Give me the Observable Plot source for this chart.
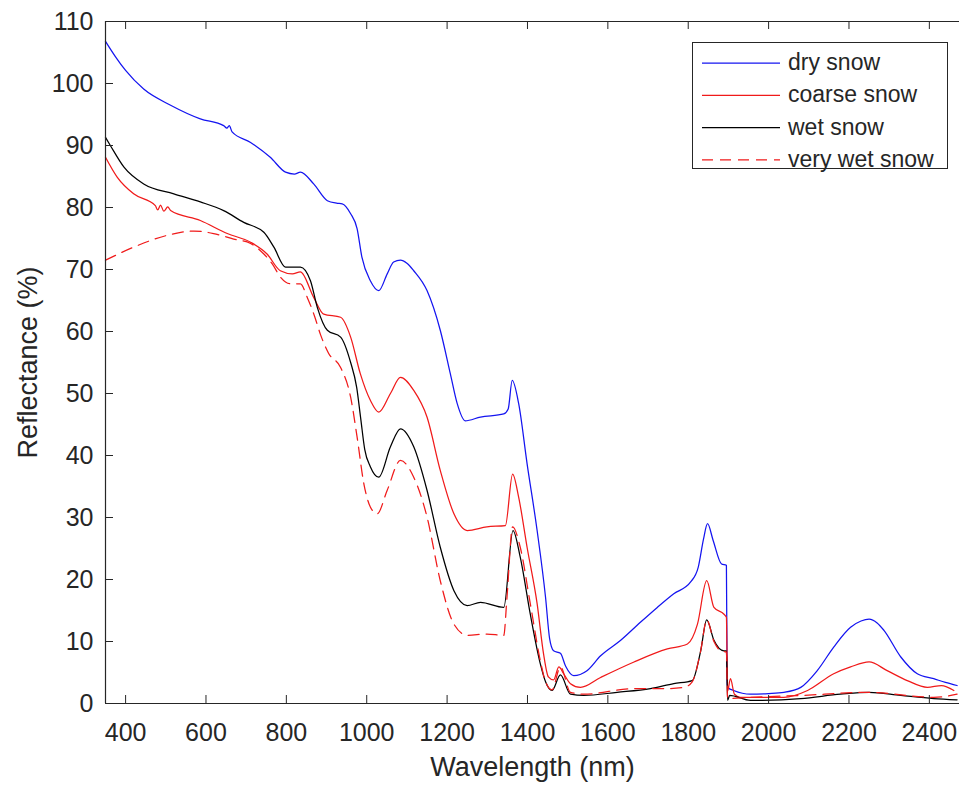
<!DOCTYPE html>
<html>
<head>
<meta charset="utf-8">
<script src="https://cdn.jsdelivr.net/npm/d3@7"></script>
<script src="https://cdn.jsdelivr.net/npm/@observablehq/plot@0.6"></script>
<style>
  body { margin: 0; background: #fff; }
  #wrap { position: relative; width: 959px; height: 786px; overflow: hidden; background: #fff; }
  #legend { position: absolute; left: 692px; top: 42px; overflow: visible; }
</style>
</head>
<body>
<div id="wrap"></div>
<script>
// ---------- data ----------
const drySnowNm = [350,375,400,445,512,586,644,652,658,665,711,760,798,820,835,868,902,925,939,960,976,988,1009,1030,1051,1067,1084,1100,1117,1150,1183,1208,1225,1245,1283,1341,1352,1362,1378,1399,1424,1445,1455,1465,1482,1495,1515,1548,1582,1632,1681,1723,1764,1806,1825,1838,1848,1862,1883,1895,1897,1900,1913,1955,2000,2038,2080,2121,2162,2204,2230,2250,2270,2287,2329,2370,2411,2440,2469];
const drySnowR  = [106.8,104.3,102.1,99.1,96.5,94.3,93.2,92.8,93.2,92.2,90.5,88.1,85.7,85.4,85.7,83.8,81.1,80.7,80.6,79.0,76.6,72.0,68.2,66.6,69.3,71.2,71.5,71.0,69.8,66.6,60.2,53.2,48.4,45.6,46.2,46.7,47.5,52.1,48.4,38.7,27.9,17.1,10.5,8.5,8.1,6.0,4.5,5.3,7.7,10.2,13.1,15.5,17.7,19.6,22.0,26.5,29.0,26.3,22.5,22.3,3.0,2.5,2.1,1.5,1.6,1.8,2.6,5.3,9.1,12.3,13.3,13.6,13.0,11.8,7.5,4.8,4.0,3.4,2.9];

const coarseSnowNm = [350,379,420,474,480,487,495,505,512,586,653,711,752,785,815,835,868,893,935,960,984,1009,1030,1059,1084,1117,1150,1183,1217,1250,1299,1345,1363,1378,1399,1424,1440,1452,1465,1478,1490,1507,1532,1582,1665,1748,1798,1823,1846,1864,1889,1895,1898,1905,1915,1930,2038,2097,2162,2204,2250,2295,2345,2395,2430,2461];
const coarseSnowR  = [88.1,84.9,82.2,80.3,79.6,80.4,79.4,80.1,79.5,77.9,75.8,74.4,72.5,69.8,69.3,69.6,65.5,62.8,62.3,59.1,53.2,48.9,47.0,50.0,52.6,50.5,46.2,37.6,30.6,27.9,28.5,28.7,37.0,33.3,25.2,16.1,8.0,4.3,3.8,5.9,4.8,3.2,2.6,4.2,6.7,8.8,9.6,12.8,19.8,15.5,14.4,13.9,2.0,4.0,1.5,1.0,1.0,2.1,4.8,5.9,6.7,5.3,3.7,2.6,2.9,2.1];

const wetSnowNm = [350,362,396,445,520,586,644,694,744,769,798,835,860,877,902,935,960,975,985,995,1009,1030,1059,1084,1117,1150,1183,1217,1250,1283,1341,1364,1382,1407,1432,1445,1461,1482,1507,1540,1623,1706,1764,1810,1831,1846,1864,1889,1895,1898,1903,1955,2080,2179,2250,2329,2411,2469];
const wetSnowR  = [91.3,90.0,86.5,83.8,82.2,80.9,79.5,77.6,76.0,73.6,70.4,70.4,68.2,63.9,60.2,59.1,55.0,51.0,46.0,41.0,38.2,36.5,41.4,44.3,41.4,34.4,25.2,18.2,15.8,16.3,15.5,27.9,23.6,14.4,6.4,3.5,2.1,4.6,1.5,1.3,1.8,2.4,3.2,3.7,8.5,13.5,10.2,8.5,8.5,0.5,1.3,0.5,0.8,1.5,1.8,1.3,0.8,0.6];

const veryWetSnowNm = [350,420,503,570,619,669,711,744,765,785,810,835,852,870,885,905,935,960,976,993,1009,1026,1051,1084,1117,1150,1183,1217,1250,1299,1341,1349,1363,1382,1407,1432,1445,1461,1482,1507,1540,1665,1748,1789,1810,1831,1846,1864,1881,1895,1898,1955,2080,2250,2411,2469];
const veryWetSnowR  = [71.5,73.6,75.5,76.2,75.8,74.9,74.2,72.5,70.9,68.8,67.7,67.7,65.5,62.5,59.5,56.5,54.2,49.4,43.0,35.4,31.7,30.6,34.4,39.2,36.5,30.1,19.8,12.8,11.0,11.2,11.0,17.1,28.5,25.2,16.1,6.9,3.5,2.2,5.9,1.8,1.5,2.4,2.4,2.6,3.5,8.5,13.5,10.0,8.5,8.3,0.8,1.0,1.3,1.8,1.0,1.5];

const seriesNames  = ["dry snow", "coarse snow", "wet snow", "very wet snow"];
const seriesColors = ["#1414f0", "#f01a1a", "#000000", "#f01a1a"];
const seriesDash   = [null, null, null, "11,7"];
const seriesNm = [drySnowNm, coarseSnowNm, wetSnowNm, veryWetSnowNm];
const seriesR  = [drySnowR, coarseSnowR, wetSnowR, veryWetSnowR];

const xDomain = [350, 2475];
const xTicks = [400, 600, 800, 1000, 1200, 1400, 1600, 1800, 2000, 2200, 2400];
const yTicks = [0, 10, 20, 30, 40, 50, 60, 70, 80, 90, 100, 110];

// ---------- layout ----------
const W = 959, H = 786, mT = 21, mB = 83, mL = 105, mR = 0;
const innerH = H - mT - mB, innerW = W - mL - mR;
const axisColor = "#262626";
const font = '"Liberation Sans", Arial, Helvetica, sans-serif';

const lineMarks = seriesNames.map((name, i) => {
  const rows = seriesNm[i].map((nm, j) => ({nm, r: seriesR[i][j]}));
  return Plot.line(rows, {
    x: "nm", y: "r",
    stroke: seriesColors[i], strokeWidth: 1.25,
    strokeDasharray: seriesDash[i] || undefined,
    curve: "monotone-x"
  });
});

const chart = Plot.plot({
  width: W, height: H,
  marginTop: mT, marginBottom: mB, marginLeft: mL, marginRight: mR,
  style: {fontFamily: font, background: "#fff", color: axisColor, overflow: "visible"},
  x: {domain: xDomain},
  y: {domain: [yTicks[0], yTicks[yTicks.length - 1]]},
  marks: [
    Plot.axisX(xTicks, {tickSize: 0, tickPadding: 20, fontSize: 25, label: null, tickFormat: d => String(d)}),
    Plot.axisY(yTicks, {tickSize: 0, tickPadding: 12, fontSize: 25, label: null, tickFormat: d => String(d)}),
    ...lineMarks,
    Plot.tickX(xTicks, {x: d => d, insetTop: innerH - 8, stroke: axisColor}),
    Plot.tickX(xTicks, {x: d => d, insetBottom: innerH - 8, stroke: axisColor}),
    Plot.tickY(yTicks, {y: d => d, insetRight: innerW - 8, stroke: axisColor}),
    Plot.ruleY([yTicks[0]], {stroke: axisColor, strokeWidth: 1.2}),
    Plot.ruleY([yTicks[yTicks.length - 1]], {stroke: axisColor, strokeWidth: 1.2}),
    Plot.ruleX([xDomain[0]], {stroke: axisColor, strokeWidth: 1.2}),
    Plot.text(["Wavelength (nm)"], {text: d => d, frameAnchor: "bottom", dy: 72, fontSize: 27, fill: axisColor, textAnchor: "middle"}),
    Plot.text(["Reflectance (%)"], {text: d => d, frameAnchor: "left", dx: -77, rotate: -90, fontSize: 27, fill: axisColor, textAnchor: "middle"})
  ]
});

const wrap = document.getElementById("wrap");
wrap.appendChild(chart);

// ---------- legend (MATLAB-style box) ----------
const legW = 256, legH = 127, rowY0 = 21, rowStep = 32.3;
const leg = d3.create("svg")
  .attr("id", "legend")
  .attr("width", legW).attr("height", legH)
  .style("font-family", font);
leg.append("rect")
  .attr("x", 0.5).attr("y", 0.5).attr("width", legW - 1).attr("height", legH - 1)
  .attr("fill", "#fff").attr("stroke", axisColor).attr("stroke-width", 1);
seriesNames.forEach((name, i) => {
  const y = rowY0 + i * rowStep;
  leg.append("line")
    .attr("x1", 10).attr("x2", 88).attr("y1", y).attr("y2", y)
    .attr("stroke", seriesColors[i]).attr("stroke-width", 1.25)
    .attr("stroke-dasharray", seriesDash[i] || null);
  leg.append("text")
    .attr("x", 96).attr("y", y).attr("dy", "0.3em")
    .attr("font-size", 23).attr("fill", axisColor)
    .text(name);
});
wrap.appendChild(leg.node());
</script>
</body>
</html>
